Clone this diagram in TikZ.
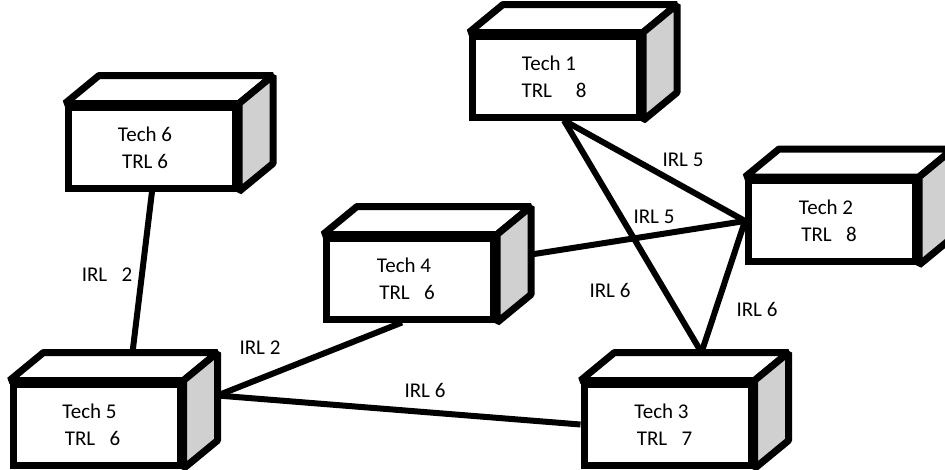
\documentclass[tikz,border=0pt]{standalone}
\usepackage{fontspec}
\setmainfont{Carlito}
\usetikzlibrary{calc}
\pgfdeclarelayer{background}
\pgfsetlayers{background,main}
\definecolor{sidegray}{RGB}{208,208,208}
\tikzset{
  techbox/.style={draw,line width=7pt,fill=white,minimum width=167pt,minimum height=81pt,
                  inner sep=0pt,align=center,font=\fontsize{21}{27}\selectfont},
  face/.style={draw,line width=7pt,line join=bevel,fill=white},
  link/.style={line width=6pt},
  irl/.style={inner sep=0pt,font=\fontsize{21}{25}\selectfont}
}
\begin{document}
\begin{tikzpicture}[x=1pt,y=-1pt]
\useasboundingbox (0,0) rectangle (945,469);
% the six technologies
\node[techbox] (t1) at (556,76.5)  {Tech 1\hspace*{14pt}\\TRL~~~~~8\hspace*{4pt}};
\node[techbox] (t2) at (832,221)   {Tech 2\hspace*{12pt}\\TRL~~~8\hspace*{6pt}};
\node[techbox] (t3) at (667.5,424.5) {Tech 3\hspace*{12pt}\\TRL~~~7\hspace*{6pt}};
\node[techbox] (t4) at (410,278.5) {Tech 4\hspace*{12pt}\\TRL~~~6\hspace*{6pt}};
\node[techbox] (t5) at (96.5,424.5) {Tech 5\hspace*{14pt}\\TRL~~~6\hspace*{8pt}};
\node[techbox] (t6) at (152,147.5) {Tech 6\hspace*{14pt}\\TRL 6\hspace*{14pt}};
% top and side faces
\foreach \n in {t1,t2,t3,t4,t5,t6} {
  \filldraw[face] (\n.north west) -- ++(34,-28) -- ($(\n.north east)+(34,-28)$) -- (\n.north east) -- cycle;
  \filldraw[face,fill=sidegray] (\n.north east) -- ++(34,-28) -- ($(\n.south east)+(34,-28)$) -- (\n.south east) -- cycle;
}
% links, behind the boxes
\begin{pgfonlayer}{background}
\coordinate (t5s) at ($(t5.east)+(34,-29)$);
\coordinate (t1b) at ($(t1.south)+(8,0)$);
\coordinate (t3t) at ($(t3.north)+(34,-28)$);
\draw[link] (t6.south) -- ($(t5.north)+(36,-28)$);
\draw[link] (t5s) -- ($(t4.south)+(-8,0)$);
\draw[link] (t5s) -- (t3.west);
\draw[link] (t1b) -- (t3t);
\draw[link] (t1b) -- (t2.west);
\draw[link] ($(t4.east)+(34,-24)$) -- (t2.west);
\draw[link] (t2.west) -- (t3t);
\end{pgfonlayer}
% readiness levels
\node[irl] (l65) at (107,275) {IRL~~~2};
\node[irl] (l54) at (260,348) {IRL 2};
\node[irl] (l53) at (425,390) {IRL 6};
\node[irl] (l13) at (610,290) {IRL 6};
\node[irl] (l23) at (757,309) {IRL 6};
\node[irl] (l12) at (683,160) {IRL 5};
\node[irl] (l42) at (654,217) {IRL 5};
\end{tikzpicture}
\end{document}
